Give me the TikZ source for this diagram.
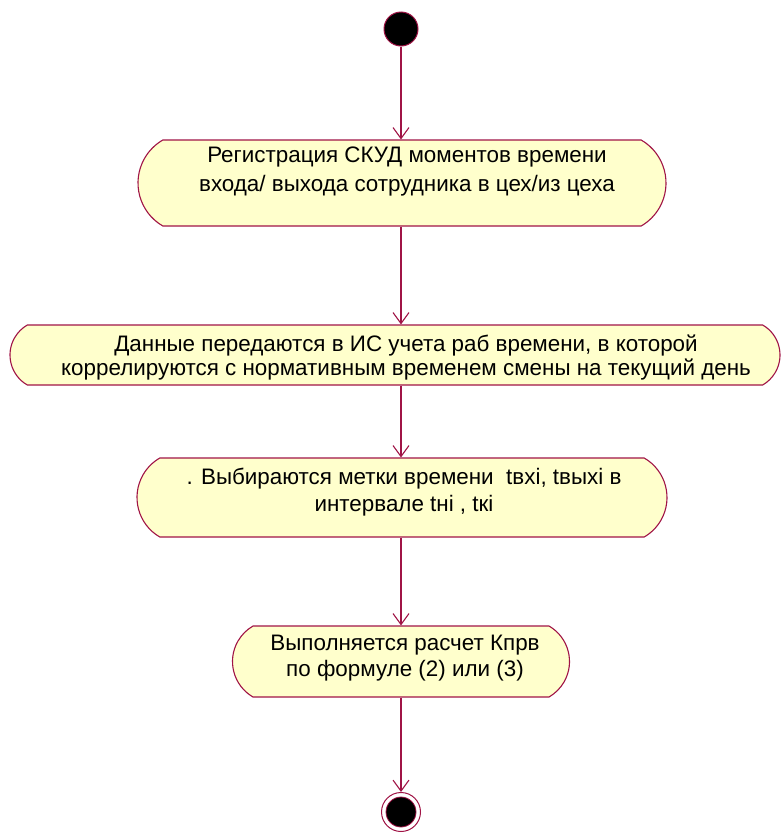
\documentclass[tikz,border=0pt]{standalone}
\usepackage{fontspec}
\setmainfont{Liberation Sans}
\usetikzlibrary{shapes.misc,arrows.meta}
\definecolor{edgecol}{RGB}{160,20,70}
\definecolor{actfill}{RGB}{255,255,204}
\tikzset{
  activity/.style={rounded rectangle, rounded rectangle arc length=120, draw=edgecol, fill=actfill, line width=1.1pt, inner sep=0pt},
  acttext/.style={align=center, font=\fontsize{22.4}{29}\selectfont, inner sep=0pt},
  flow/.style={draw=edgecol, line width=1.1pt, -{Straight Barb[length=11pt,width=16pt,line width=1.1pt]}},
}
\begin{document}
\begin{tikzpicture}[x=1pt,y=-1pt]
\useasboundingbox (0,0) rectangle (782,833);
\node[circle, fill=black, draw=edgecol, line width=1pt, minimum size=34pt, inner sep=0pt] (start) at (401,29) {};
\node[activity, minimum width=528pt, minimum height=86pt] (a1) at (402,183) {};
\node[acttext] (a1t) at ([xshift=5pt,yshift=11pt]a1.center) {Регистрация СКУД моментов времени\\ входа/ выхода сотрудника в цех/из цеха};
\node[activity, minimum width=770pt, minimum height=60pt] (a2) at (395,355) {};
\node[acttext, font=\fontsize{22.4}{23.5}\selectfont] (a2t) at ([xshift=11pt,yshift=-2.5pt]a2.center) {Данные передаются в ИС учета раб времени, в которой\\ коррелируются с нормативным временем смены на текущий день};
\node[activity, minimum width=530pt, minimum height=79pt] (a3) at (402,497.5) {};
\node[acttext, font=\fontsize{22.4}{27}\selectfont] (a3t) at ([xshift=2pt,yshift=5pt]a3.center) {. Выбираются метки времени\ \ tвхi, tвыхi в\\ интервале tнi\ , tкi};
\node[activity, minimum width=337pt, minimum height=71pt] (a4) at (401,661.5) {};
\node[acttext, font=\fontsize{22.4}{26}\selectfont] (a4t) at ([xshift=4pt,yshift=3.5pt]a4.center) {Выполняется расчет Кпрв\\ по формуле (2) или (3)};
\node[circle, fill=white, draw=edgecol, line width=1pt, minimum size=39pt, inner sep=0pt] (endo) at (401,812) {};
\node[circle, fill=black, draw=edgecol, line width=0.8pt, minimum size=30pt, inner sep=0pt] (endi) at (401,812) {};
\draw[flow] (start) -- (start |- a1.north);
\draw[flow] (a1.south -| start) -- (start |- a2.north);
\draw[flow] (a2.south -| start) -- (start |- a3.north);
\draw[flow] (a3.south -| start) -- (start |- a4.north);
\draw[flow] (a4.south -| start) -- (endo.north);
\end{tikzpicture}
\end{document}
